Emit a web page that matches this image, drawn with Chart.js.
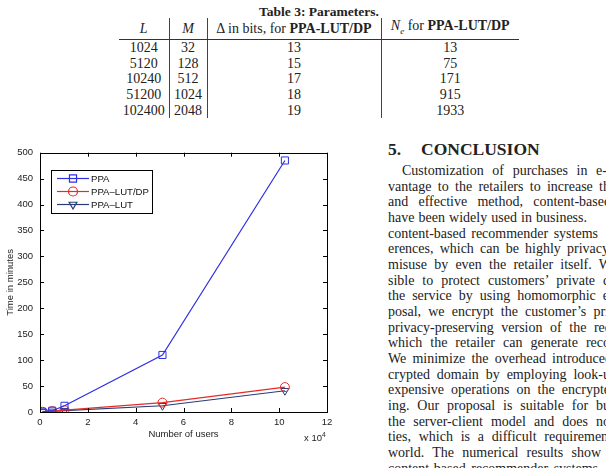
<!DOCTYPE html>
<html>
<head>
<meta charset="utf-8">
<script src="https://cdn.jsdelivr.net/npm/chart.js@4"></script>
<style>
  html, body { margin: 0; padding: 0; background: #fff; }
  body { width: 606px; height: 468px; overflow: hidden; position: relative; font-family: "Liberation Serif", serif; color: #222; }
  #tblTitle { position: absolute; left: 219px; width: 200px; top: 4px; text-align: center; font-weight: bold; font-size: 13.5px; }
  #params { position: absolute; left: 119px; top: 18px; border-collapse: collapse; font-size: 14px; table-layout: fixed; }
  #params td, #params th { padding: 0; text-align: center; font-weight: normal; height: 15.7px; line-height: 15.7px; }
  #params th { height: 15px; line-height: 15px; border-bottom: 1.3px solid #333; }
  #params .sep { border-right: 1px solid #444; }
  #params .it { font-style: italic; }
  .head { position: absolute; top: 139px; font-weight: bold; font-size: 17.5px; white-space: pre; }
  .tline { position: absolute; height: 15.67px; line-height: 15.67px; font-size: 14px; overflow: hidden;
           text-align: justify; text-align-last: justify; }
  #chartBox { position: absolute; left: 0; top: 140px; width: 340px; height: 310px; }
  #xExp { position: absolute; left: 304px; top: 431px; font-family: "Liberation Sans", sans-serif; font-size: 9.5px; color: #222; }
  #xExp sup { font-size: 6.5px; }
</style>
</head>
<body>
<div id="tblTitle">Table 3: Parameters.</div>
<table id="params">
  <colgroup><col style="width:50px"><col style="width:38px"><col style="width:174px"><col style="width:138px"></colgroup>
  <thead id="paramsHead"></thead>
  <tbody id="paramsBody"></tbody>
</table>

<div class="head" style="left:388px">5.</div>
<div class="head" style="left:421px">CONCLUSION</div>
<div id="conclusion"></div>

<div id="chartBox"><canvas id="timeChart" width="340" height="310"></canvas></div>
<div id="xExp">x 10<sup>4</sup></div>

<script>
// ---------- table data ----------
const tblL = [1024, 5120, 10240, 51200, 102400];
const tblM = [32, 128, 512, 1024, 2048];
const tblDelta = [13, 15, 17, 18, 19];
const tblNe = [13, 75, 171, 915, 1933];

// ---------- chart data ----------
const users = [1024, 5120, 10240, 51200, 102400];
const timePPA = [0.5, 2.5, 12, 110, 485];
const timeLutDp = [0.4, 1.8, 3.5, 18, 48];
const timeLut = [0.3, 1.2, 2.5, 12, 41];
const seriesNames = ["PPA", "PPA\u2013LUT/DP", "PPA\u2013LUT"];
const xTicks = [0, 2, 4, 6, 8, 10, 12];   // in units of 10^4 users

// ---------- text column (visible part of each line) ----------
const textLines = [
  "Customization of purchases in e-",
  "vantage to the retailers to increase th",
  "and effective method, content-based",
  "have been widely used in business.",
  "content-based recommender systems",
  "erences, which can be highly privacy",
  "misuse by even the retailer itself. W",
  "sible to protect customers\u2019 private d",
  "the service by using homomorphic e",
  "posal, we encrypt the customer\u2019s pri",
  "privacy-preserving version of the rec",
  "which the retailer can generate reco",
  "We minimize the overhead introduced",
  "crypted domain by employing look-u",
  "expensive operations on the encrypte",
  "ing. Our proposal is suitable for bu",
  "the server-client model and does not",
  "ties, which is a difficult requirement",
  "world. The numerical results show",
  "content-based recommender systems"
];
// where each line ends on the page (lines past 606 are cut by the page edge)
const lineEnds = [607, 610, 611, 587, 598, 609, 612, 610, 609, 609,
                  611, 610, 612, 610, 610, 610, 614, 612, 601, 598];

// build table
document.getElementById("paramsHead").innerHTML =
  '<tr><th class="sep it">L</th><th class="sep it">M</th>' +
  '<th class="sep">\u0394 in bits, for <b>PPA-LUT/DP</b></th>' +
  '<th><span class="it">N<sub style="font-size:9px">e</sub></span> for <b>PPA-LUT/DP</b></th></tr>';
const body = document.getElementById("paramsBody");
tblL.forEach((l, i) => {
  const tr = document.createElement("tr");
  tr.innerHTML = '<td class="sep">' + l + '</td><td class="sep">' + tblM[i] + '</td><td class="sep">' +
    tblDelta[i] + '</td><td>' + tblNe[i] + '</td>';
  body.appendChild(tr);
});

// build text, each line justified out to its end
const concl = document.getElementById("conclusion");
textLines.forEach((t, i) => {
  const d = document.createElement("div");
  d.className = "tline";
  const left = i === 0 ? 402 : 388;
  d.style.left = left + "px";
  d.style.width = (lineEnds[i] - left) + "px";
  d.style.top = (163 + i * 15.67) + "px";
  d.textContent = t;
  concl.appendChild(d);
});

// =============================
// matlab style frame + inward ticks + legend
// =============================
const matlabFrame = {
  id: "matlabFrame",
  afterDatasetsDraw(chart) {
    const ctx = chart.ctx;
    const a = chart.chartArea;
    const xs = chart.scales.x;
    const ys = chart.scales.y;
    ctx.save();
    ctx.strokeStyle = "#000";
    ctx.lineWidth = 1;
    ctx.strokeRect(Math.round(a.left) + 0.5, Math.round(a.top) + 0.5, Math.round(a.right - a.left), Math.round(a.bottom - a.top));
    const tl = 4;
    ctx.beginPath();
    xs.ticks.forEach(t => {
      const px = Math.round(xs.getPixelForValue(t.value)) + 0.5;
      ctx.moveTo(px, a.bottom); ctx.lineTo(px, a.bottom - tl);
      ctx.moveTo(px, a.top); ctx.lineTo(px, a.top + tl);
    });
    ys.ticks.forEach(t => {
      const py = Math.round(ys.getPixelForValue(t.value)) + 0.5;
      ctx.moveTo(a.left, py); ctx.lineTo(a.left + tl, py);
      ctx.moveTo(a.right, py); ctx.lineTo(a.right - tl, py);
    });
    ctx.stroke();

    // legend box
    const bx = 51, by = 30, bw = 101, bh = 43;
    ctx.fillStyle = "#fff";
    ctx.fillRect(bx, by, bw, bh);
    ctx.strokeRect(bx + 0.5, by + 0.5, bw, bh);
    ctx.font = "9.6px 'Liberation Sans', sans-serif";
    ctx.textBaseline = "middle";
    chart.data.datasets.forEach((ds, i) => {
      const y = by + 8.5 + i * 13;
      ctx.strokeStyle = ds.borderColor;
      ctx.lineWidth = 1.2;
      ctx.beginPath();
      ctx.moveTo(bx + 6, y); ctx.lineTo(bx + 38, y);
      ctx.stroke();
      ctx.fillStyle = "rgba(0,0,0,0)";
      Chart.helpers.drawPoint(ctx, {
        pointStyle: ds.pointStyle, radius: ds.pointRadius, rotation: ds.pointRotation || 0, borderWidth: 1
      }, bx + 22, y);
      ctx.fillStyle = "#111";
      ctx.fillText(ds.label, bx + 40, y + 0.5);
    });
    ctx.restore();
  }
};

function toPoints(vals) {
  return users.map((u, i) => ({ x: u, y: vals[i] }));
}

const axisFont = { family: "'Liberation Sans', sans-serif", size: 9.5 };

new Chart(document.getElementById("timeChart"), {
  type: "line",
  data: {
    datasets: [
      { label: seriesNames[0], data: toPoints(timePPA), borderColor: "#2f2fe6", backgroundColor: "transparent",
        pointStyle: "rect", pointRadius: 5, pointBorderColor: "#2f2fe6", pointBackgroundColor: "rgba(0,0,0,0)", borderWidth: 1.2, pointBorderWidth: 1 },
      { label: seriesNames[1], data: toPoints(timeLutDp), borderColor: "#e52a2a", backgroundColor: "transparent",
        pointStyle: "circle", pointRadius: 4.5, pointBorderColor: "#e52a2a", pointBackgroundColor: "rgba(0,0,0,0)", borderWidth: 1.2, pointBorderWidth: 1 },
      { label: seriesNames[2], data: toPoints(timeLut), borderColor: "#2a3c78", backgroundColor: "transparent",
        pointStyle: "triangle", pointRotation: 180, pointRadius: 4.5, pointBorderColor: "#2a3c78", pointBackgroundColor: "rgba(0,0,0,0)", borderWidth: 1.2, pointBorderWidth: 1 }
    ]
  },
  options: {
    responsive: false,
    animation: false,
    layout: { padding: { left: 0, right: 13, top: 12, bottom: 0 } },
    plugins: { legend: { display: false }, tooltip: { enabled: false } },
    elements: { line: { tension: 0 } },
    scales: {
      x: {
        type: "linear", min: 0, max: 120000,
        afterBuildTicks: s => { s.ticks = xTicks.map(v => ({ value: v * 10000 })); },
        afterFit: s => { s.height = 38; },
        grid: { display: false, drawTicks: false }, border: { display: false },
        ticks: { color: "#222", padding: 5, font: axisFont, callback: v => v / 10000, maxRotation: 0 },
        title: { display: true, text: "Number of users", color: "#222", padding: { top: 0, bottom: 10 }, font: axisFont }
      },
      y: {
        min: 0, max: 500,
        ticks: { stepSize: 50, color: "#222", padding: 7, font: axisFont },
        afterFit: s => { s.width = 40; },
        grid: { display: false, drawTicks: false }, border: { display: false },
        title: { display: true, text: "Time in minutes", color: "#222", padding: { top: 5, bottom: 0 }, font: axisFont }
      }
    }
  },
  plugins: [matlabFrame]
});
</script>
</body>
</html>
